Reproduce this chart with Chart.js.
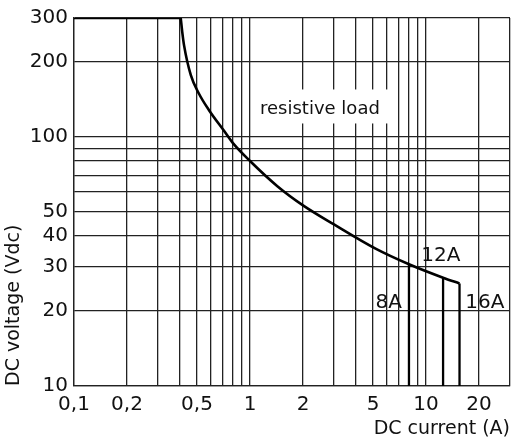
<!DOCTYPE html>
<html><head><meta charset="utf-8">
<script src="https://cdn.jsdelivr.net/npm/chart.js@4"></script>
<style>html,body{margin:0;padding:0;background:#fff;}#wrap{width:521px;height:442px;}</style>
</head><body><div id="wrap"><canvas id="c" width="521" height="442"></canvas></div>
<script>
// ---- data ----
const xGridValues = [0.1,0.2,0.3,0.4,0.5,0.6,0.7,0.8,0.9,1,2,3,4,5,6,7,8,9,10,20,30];
const xLabelValues = [0.1,0.2,0.5,1,2,5,10,20];
const xLabelTexts = ['0,1','0,2','0,5','1','2','5','10','20'];
const yGridValues = [10,20,30,40,50,60,70,80,90,100,200,300];
const yLabelValues = [10,20,30,40,50,100,200,300];
const yLabelTexts = ['10','20','30','40','50','100','200','300'];

const limitX = [0.1, 0.404];
const limitY = [300, 300];
const curveX = [0.404,0.412,0.422,0.461,0.513,0.585,0.71,0.8,1.0,1.43,2.0,3.0,5.2,8,12.5,15.5];
const curveY = [300,264,233,177,149,128,106,94.4,80,63.4,53.1,44.5,35.5,30.8,27.2,25.8];
const ratingX = [8,12.5,15.5];
const ratingTopY = [30.8,27.2,25.8];
const ratingBottomY = [10,10,10];

const noteTexts = ['resistive load','8A','12A','16A'];
const noteX = [1.14, 7.3, 9.4, 16.7];
const noteY = [123, 20.5, 31.8, 20.5];

// ---- chart ----
const FONT = 'DejaVu Sans';
const INK = '#111';
const GRID = '#222';

const datasets = [];
datasets.push({data: limitX.map((x,i)=>({x, y: limitY[i]})), borderColor:'#000', borderWidth:2.6, pointRadius:0, showLine:true});
datasets.push({data: curveX.map((x,i)=>({x, y: curveY[i]})), borderColor:'#000', borderWidth:2.6, pointRadius:0, showLine:true, cubicInterpolationMode:'monotone'});
ratingX.forEach((x,i)=>{
  datasets.push({data:[{x, y: ratingTopY[i]},{x, y: ratingBottomY[i]}], borderColor:'#000', borderWidth:2.3, pointRadius:0, showLine:true});
});

const notesPlugin = {
  id:'notes',
  afterDatasetsDraw(chart){
    const ctx = chart.ctx, xs = chart.scales.x, ys = chart.scales.y;
    ctx.save();
    noteTexts.forEach((t,i)=>{
      const px = xs.getPixelForValue(noteX[i]);
      const py = ys.getPixelForValue(noteY[i]);
      const isBox = i === 0;
      ctx.font = (isBox ? 18 : 20) + 'px "' + FONT + '"';
      ctx.textBaseline = 'alphabetic';
      ctx.textAlign = (i === 1) ? 'right' : 'left';
      if (isBox){
        const w = ctx.measureText(t).width;
        ctx.fillStyle = '#fff';
        ctx.fillRect(px-6, py-25, w+16, 34);
      }
      ctx.fillStyle = INK;
      ctx.fillText(t, px, py);
    });
    ctx.restore();
  }
};

new Chart(document.getElementById('c'), {
  type:'scatter',
  data:{datasets},
  plugins:[notesPlugin],
  options:{
    responsive:false,
    animation:false,
    layout:{padding:{left:0,right:11,top:16,bottom:0}},
    plugins:{legend:{display:false}, tooltip:{enabled:false}},
    scales:{
      x:{
        type:'logarithmic', position:'bottom', min:0.1, max:30,
        afterBuildTicks(s){ s.ticks = xGridValues.map(v=>({value:v})); },
        afterFit(s){ s.height = 56; },
        ticks:{autoSkip:false, maxRotation:0, minRotation:0, padding:7, color:INK, font:{family:FONT, size:20},
          callback(v){ const i = xLabelValues.indexOf(v); return i>=0 ? xLabelTexts[i] : ''; }},
        grid:{color:GRID, lineWidth:1.3, drawTicks:false},
        border:{color:GRID, width:1.3},
        title:{display:true, text:'DC current (A)', align:'end', color:INK, font:{family:FONT, size:19}, padding:{top:0,bottom:2}}
      },
      y:{
        type:'logarithmic', position:'left', min:10, max:300,
        afterBuildTicks(s){ s.ticks = yGridValues.map(v=>({value:v})); },
        afterFit(s){ s.width = 74; },
        ticks:{autoSkip:false, padding:6, color:INK, font:{family:FONT, size:20},
          callback(v){ const i = yLabelValues.indexOf(v); return i>=0 ? yLabelTexts[i] : ''; }},
        grid:{color:GRID, lineWidth:1.3, drawTicks:false},
        border:{color:GRID, width:1.3},
        title:{display:true, text:'DC voltage (Vdc)', align:'start', color:INK, font:{family:FONT, size:19}, padding:{top:3,bottom:0}}
      }
    }
  }
});
</script>
</body></html>
